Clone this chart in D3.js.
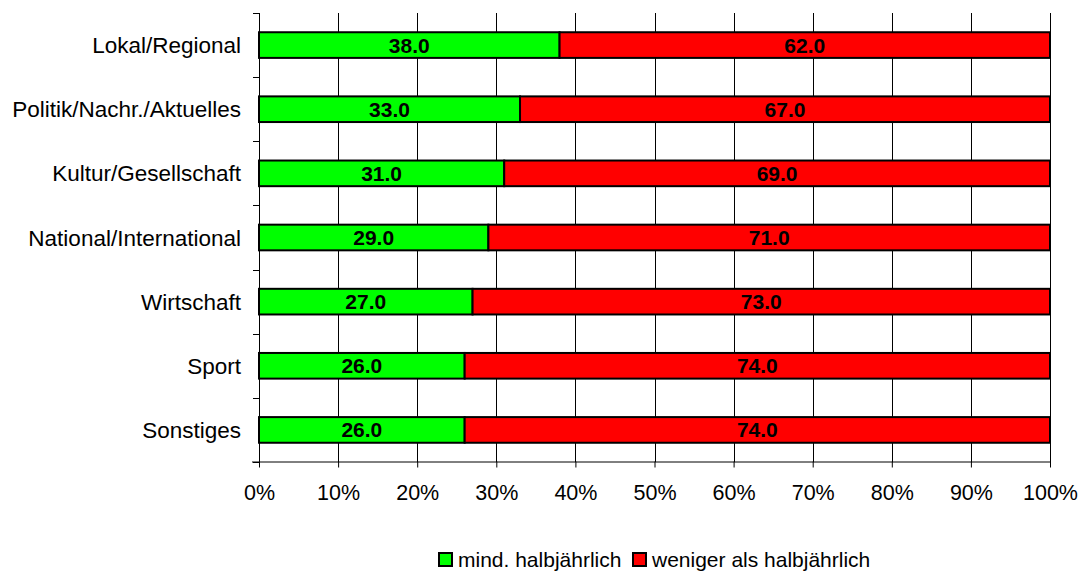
<!DOCTYPE html>
<html>
<head>
<meta charset="utf-8">
<script src="https://cdn.jsdelivr.net/npm/d3@7.9.0/dist/d3.min.js"></script>
<style>
  body { margin: 0; background: #fff; }
  svg text { font-family: "Liberation Sans", Arial, sans-serif; }
</style>
</head>
<body>
<svg id="chart" width="1080" height="571"></svg>
<script>
// Data
const categories = ['Lokal/Regional', 'Politik/Nachr./Aktuelles', 'Kultur/Gesellschaft',
  'National/International', 'Wirtschaft', 'Sport', 'Sonstiges'];
const mindHalbjaehrlich = [38, 33, 31, 29, 27, 26, 26];
const wenigerAlsHalbjaehrlich = [62, 67, 69, 71, 73, 74, 74];
const seriesNames = ['mind. halbjährlich', 'weniger als halbjährlich'];
const seriesColors = ['#00ff00', '#ff0000'];
const xTicks = [0, 10, 20, 30, 40, 50, 60, 70, 80, 90, 100];

const svg = d3.select('#chart');
const plotLeft = 259, plotRight = 1050, plotTop = 13, plotBottom = 462;

const x = d3.scaleLinear().domain([0, 100]).range([plotLeft, plotRight]);
const y = d3.scaleBand().domain(categories).range([plotTop, plotBottom]).paddingInner(0.6).paddingOuter(0.3);

// vertical gridlines
svg.append('g')
  .selectAll('line')
  .data(xTicks.slice(1))
  .join('line')
  .attr('x1', d => Math.round(x(d)) + 0.5)
  .attr('x2', d => Math.round(x(d)) + 0.5)
  .attr('y1', plotTop)
  .attr('y2', plotBottom)
  .attr('stroke', '#000')
  .attr('stroke-width', 1);

// stacked bars
const rows = categories.map((c, i) => ({ cat: c, vals: [mindHalbjaehrlich[i], wenigerAlsHalbjaehrlich[i]] }));
rows.forEach(r => {
  let start = 0;
  r.vals.forEach((v, j) => {
    const x0 = x(start), x1 = x(start + v);
    svg.append('rect')
      .attr('x', x0)
      .attr('y', y(r.cat))
      .attr('width', x1 - x0)
      .attr('height', y.bandwidth())
      .attr('fill', seriesColors[j])
      .attr('stroke', '#000')
      .attr('stroke-width', 2);
    svg.append('text')
      .attr('x', (x0 + x1) / 2)
      .attr('y', y(r.cat) + y.bandwidth() / 2)
      .attr('dy', '0.36em')
      .attr('text-anchor', 'middle')
      .attr('font-size', 21)
      .attr('font-weight', 'bold')
      .text(v.toFixed(1));
    start += v;
  });
});

// y axis (ticks at band boundaries)
const step = (plotBottom - plotTop) / categories.length;
const yAxis = svg.append('g');
yAxis.append('line')
  .attr('x1', plotLeft + 0.5).attr('x2', plotLeft + 0.5)
  .attr('y1', plotTop).attr('y2', plotBottom)
  .attr('stroke', '#000');
yAxis.selectAll('line.tick')
  .data(d3.range(categories.length + 1))
  .join('line')
  .attr('class', 'tick')
  .attr('x1', plotLeft - 6).attr('x2', plotLeft)
  .attr('y1', i => Math.round(plotTop + i * step) + 0.5)
  .attr('y2', i => Math.round(plotTop + i * step) + 0.5)
  .attr('stroke', '#000');
yAxis.selectAll('text')
  .data(categories)
  .join('text')
  .attr('x', 241)
  .attr('y', d => y(d) + y.bandwidth() / 2)
  .attr('dy', '0.36em')
  .attr('text-anchor', 'end')
  .attr('font-size', 22.5)
  .text(d => d);

// x axis
const xAxis = svg.append('g')
  .attr('transform', `translate(0,${plotBottom - 0.5})`)
  .call(d3.axisBottom(x).tickValues(xTicks).tickFormat(d => d + '%').tickSize(6).tickSizeOuter(0));
xAxis.select('.domain').attr('d', `M${plotLeft - 7},0.5H${plotRight}`).attr('stroke', '#000');
xAxis.selectAll('.tick line').attr('stroke', '#000');
xAxis.selectAll('.tick text')
  .attr('font-size', 21.5)
  .attr('font-family', '"Liberation Sans", Arial, sans-serif')
  .attr('fill', '#000')
  .attr('y', 23)
  .attr('dy', '0.71em');

// legend
const legend = svg.append('g');
const legendX = [439, 633];
seriesNames.forEach((name, i) => {
  legend.append('rect')
    .attr('x', legendX[i]).attr('y', 553)
    .attr('width', 13).attr('height', 13)
    .attr('fill', seriesColors[i])
    .attr('stroke', '#000').attr('stroke-width', 2);
  legend.append('text')
    .attr('x', legendX[i] + 19)
    .attr('y', 559)
    .attr('dy', '0.36em')
    .attr('font-size', 21)
    .text(name);
});
</script>
</body>
</html>
